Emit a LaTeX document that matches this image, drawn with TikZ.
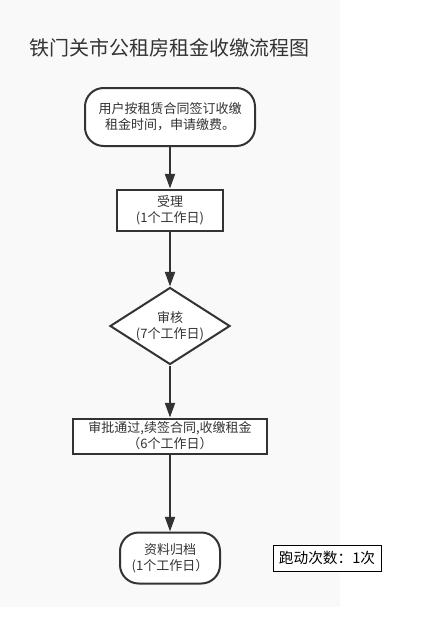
\documentclass[tikz,border=0pt]{standalone}
\usepackage{fontspec}
\setmainfont{Noto Sans CJK SC}
\usetikzlibrary{shapes.geometric,arrows.meta}
\definecolor{pagegray}{HTML}{F9F9F9}
\definecolor{inkgray}{HTML}{333333}
\tikzset{
    flowline/.style={draw=inkgray, line width=1.5pt, -{Triangle[length=11pt,width=7.5pt]}},
    box/.style={draw=inkgray, line width=1.5pt, fill=white, text=inkgray, align=center,
        inner sep=0pt, font=\fontsize{9.75}{12}\selectfont},
    endbox/.style={box, rounded corners=14pt},
    checkbox/.style={box, shape=diamond, aspect=1.56},
}
\begin{document}
\begin{tikzpicture}[x=0.75pt, y=-0.75pt]
        \useasboundingbox (0, 0) rectangle (446, 643);
        \fill[pagegray] (0, 0) rectangle (340, 607);
        \node[text=inkgray, font=\fontsize{15}{18}\selectfont] (title) at (170, 48) {铁门关市公租房租金收缴流程图};
        \node[endbox, minimum width=127.5pt, minimum height=43.5pt] (apply) at (170, 117) {用户按租赁合同签订收缴\\租金时间，申请缴费。};
        \node[box, minimum width=79.5pt, minimum height=30.75pt] (accept) at (170, 210) {受理\\(1个工作日)};
        \node[checkbox, minimum width=90pt, minimum height=57.75pt] (review) at (170, 326) {审核\\(7个工作日)};
        \node[box, minimum width=145.5pt, minimum height=26.25pt] (approve) at (170, 436) {审批通过,续签合同,收缴租金\\（6个工作日）};
        \node[endbox, minimum width=75pt, minimum height=38.25pt] (archive) at (170, 558) {资料归档\\(1个工作日）};
        \node[draw, line width=0.75pt, fill=white, inner sep=0pt, minimum width=81pt, minimum height=19.5pt,
            font=\fontsize{11}{13}\selectfont] (trips) at (327, 558) {跑动次数：1次};
        \draw[flowline] (apply) -- (accept);
        \draw[flowline] (accept) -- (review);
        \draw[flowline] (review) -- (approve);
        \draw[flowline] (approve) -- (archive);
    \end{tikzpicture}
\end{document}
